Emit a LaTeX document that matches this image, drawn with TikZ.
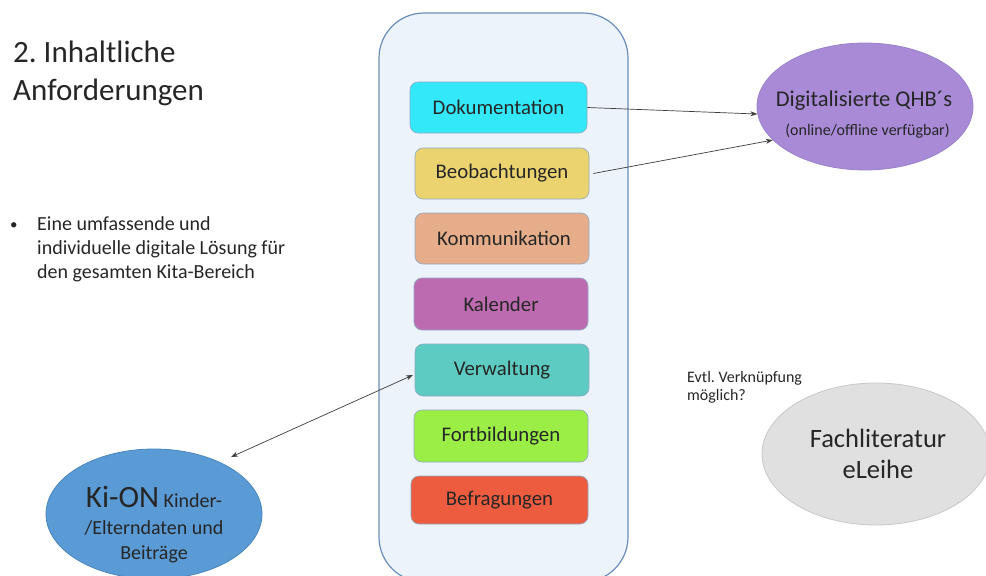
\documentclass[tikz,border=0pt]{standalone}
\usepackage{fontspec}
\setmainfont{Carlito}
\frenchspacing
\usetikzlibrary{shapes.geometric,arrows.meta}
\definecolor{txt}{HTML}{262626}
\definecolor{contfill}{HTML}{EDF3FA}
\definecolor{contdraw}{HTML}{6A8EBB}
\definecolor{boxdraw}{HTML}{8FA9C4}
\definecolor{cDok}{HTML}{33E8F8}
\definecolor{cBeo}{HTML}{EBD36F}
\definecolor{cKom}{HTML}{E6AD8A}
\definecolor{cKal}{HTML}{BC6BB0}
\definecolor{cVer}{HTML}{5DCBC1}
\definecolor{cFor}{HTML}{9BEE46}
\definecolor{cBef}{HTML}{EE5C40}
\definecolor{cQHB}{HTML}{A98AD6}
\definecolor{dQHB}{HTML}{9A82CC}
\definecolor{cKi}{HTML}{5B9BD5}
\definecolor{dKi}{HTML}{4A86BE}
\definecolor{cFa}{HTML}{E0E0E0}
\definecolor{dFa}{HTML}{C8C8C8}
\tikzset{
  fbox/.style={draw=boxdraw, line width=0.6pt, rounded corners=8pt, inner sep=0pt,
    text=txt, font=\fontsize{20.8}{25}\selectfont},
  oval/.style={ellipse, inner sep=0pt, line width=0.8pt},
  lbl/.style={inner sep=0pt, text=txt},
  conn/.style={draw=txt!90, line width=0.7pt, -{Stealth[length=7pt,width=5pt]}},
}
\begin{document}
\begin{tikzpicture}[x=1pt,y=-1pt]
\useasboundingbox (0,0) rectangle (986,576);
\clip (0,0) rectangle (986,576);
\fill[white] (0,0) rectangle (986,576);
% container
\draw[fill=contfill, draw=contdraw, line width=1.2pt, rounded corners=45pt] (379,13) rectangle (628,582);
% boxes
\node[fbox, fill=cDok, minimum width=177pt, minimum height=51pt] (dok) at (498.5,107.5) {Dokumentation};
\node[fbox, fill=cBeo, minimum width=174pt, minimum height=51pt] (beo) at (502,173.5) {Beobachtungen};
\node[fbox, fill=cKom, minimum width=174pt, minimum height=51pt] (kom) at (502,238.5) {\hspace{4pt}Kommunikation};
\node[fbox, fill=cKal, minimum width=174pt, minimum height=52pt] (kal) at (501,304) {Kalender};
\node[fbox, fill=cVer, minimum width=174pt, minimum height=52pt] (ver) at (502,370) {Verwaltung};
\node[fbox, fill=cFor, minimum width=174pt, minimum height=52pt] (fort) at (501,436) {Fortbildungen};
\node[fbox, fill=cBef, minimum width=177pt, minimum height=48pt] (bef) at (499.5,500) {Befragungen};
% ellipses
\node[oval, fill=cQHB, draw=dQHB, minimum width=216pt, minimum height=127pt] (qhb) at (865,106.5) {};
\node[lbl, anchor=base, font=\fontsize{22.5}{27}\selectfont] (qhbA) at (864,106) {Digitalisierte QHB´s};
\node[lbl, anchor=base, font=\fontsize{16}{19}\selectfont] (qhbB) at (867.5,135) {(online/offline verfügbar)};
\node[oval, fill=cKi, draw=dKi, minimum width=216pt, minimum height=130pt] (kion) at (154,514) {};
\node[lbl, anchor=base, font=\fontsize{20}{24}\selectfont] (kiA) at (154,507) {{\fontsize{31}{36}\selectfont Ki-ON} Kinder-};
\node[lbl, anchor=base, font=\fontsize{20}{24}\selectfont] (kiB) at (154,534) {/Elterndaten und};
\node[lbl, anchor=base, font=\fontsize{20}{24}\selectfont] (kiC) at (154,559) {Beiträge};
\node[oval, fill=cFa, draw=dFa, minimum width=228pt, minimum height=142pt] (fach) at (876,454) {};
\node[lbl, anchor=base, font=\fontsize{26.5}{32}\selectfont] (faA) at (878,447) {Fachliteratur};
\node[lbl, anchor=base, font=\fontsize{26.5}{32}\selectfont] (faB) at (878,478) {eLeihe};
% texts
\node[lbl, anchor=base west, font=\fontsize{16}{19}\selectfont] (evA) at (687,382) {Evtl. Verknüpfung};
\node[lbl, anchor=base west, font=\fontsize{16}{19}\selectfont] (evB) at (687,400) {möglich?};
\node[lbl, anchor=base west, font=\fontsize{31}{38}\selectfont] (tA) at (13,62) {2. Inhaltliche};
\node[lbl, anchor=base west, font=\fontsize{31}{38}\selectfont] (tB) at (13,100) {Anforderungen};
\node[lbl, anchor=base west, font=\fontsize{15}{24}\selectfont] (bul) at (10,229) {•};
\node[lbl, anchor=base west, font=\fontsize{20}{24}\selectfont] (bA) at (37,230) {Eine umfassende und};
\node[lbl, anchor=base west, font=\fontsize{20}{24}\selectfont] (bB) at (37,254) {individuelle digitale Lösung für};
\node[lbl, anchor=base west, font=\fontsize{20}{24}\selectfont] (bC) at (37,278) {den gesamten Kita-Bereich};
% connectors
\coordinate (kiTip) at (231,457);
\coordinate (verTip) at (413,375);
\draw[conn] (dok.east) -- (qhb.184);
\draw[conn] ([xshift=4pt]beo.east) -- (qhb.200);
\draw[conn, {Stealth[length=7pt,width=5pt]}-{Stealth[length=7pt,width=5pt]}] (kiTip) -- (verTip);
\end{tikzpicture}
\end{document}
